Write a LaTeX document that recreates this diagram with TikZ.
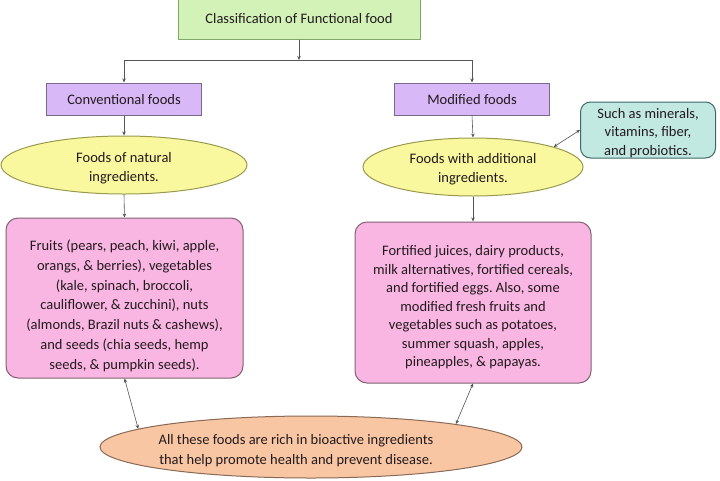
\documentclass[tikz,border=0pt]{standalone}
\usepackage{fontspec}
\setmainfont{Carlito}
\usetikzlibrary{shapes.geometric,arrows.meta}
\definecolor{gfill}{HTML}{D2F2B8}
\definecolor{gline}{HTML}{7FA868}
\definecolor{pfill}{HTML}{D8B8F6}
\definecolor{pline}{HTML}{7A6A8A}
\definecolor{yfill}{HTML}{FAF89E}
\definecolor{yline}{HTML}{9A9A4E}
\definecolor{kfill}{HTML}{F9B6E2}
\definecolor{kline}{HTML}{806272}
\definecolor{tfill}{HTML}{C2E8E2}
\definecolor{tline}{HTML}{3E6A66}
\definecolor{ofill}{HTML}{F8C6A2}
\definecolor{oline}{HTML}{8A6A56}
\definecolor{txt}{HTML}{221A1E}
\definecolor{conn}{HTML}{555555}
\frenchspacing
\newcommand{\lowr}[2]{\raisebox{-#1pt}[\height][\depth]{#2}}
\newcommand{\blockl}[3]{\raisebox{-#1pt}[\height][\depth]{\fontsize{14.5}{#2}\selectfont\begin{tabular}{@{}c@{}}#3\end{tabular}}}
\tikzset{
  every node/.style={text=txt, font=\fontsize{14.5}{19}\selectfont\frenchspacing, align=center, inner sep=0pt, line width=1pt},
  titlebox/.style={draw=gline, fill=gfill, rectangle, minimum width=242pt, minimum height=44pt},
  catbox/.style={draw=pline, fill=pfill, rectangle, minimum width=155pt, minimum height=32pt},
  yell/.style={draw=yline, fill=yfill, ellipse, minimum width=#1, minimum height=58pt},
  pinkbox/.style={draw=kline, fill=kfill, rectangle, rounded corners=12pt, minimum width=237pt, minimum height=160pt},
  tealbox/.style={draw=tline, fill=tfill, rectangle, rounded corners=10pt, minimum width=135pt, minimum height=56pt},
  peach/.style={draw=oline, fill=ofill, ellipse, minimum width=422pt, minimum height=62pt},
  arr/.style={draw=conn, line width=0.6pt, -{Stealth[length=4pt,width=3.5pt]}},
  darr/.style={draw=conn, line width=0.6pt, {Stealth[length=4pt,width=3.5pt]}-{Stealth[length=4pt,width=3.5pt]}}
}
\begin{document}
\begin{tikzpicture}[x=1pt,y=-1pt]
\useasboundingbox (0,0) rectangle (720,480);
\clip (0,0) rectangle (720,480);
\fill[white] (0,0) rectangle (720,480);
\node[titlebox] (title) at (299,17) {\lowr{2}{Classification of Functional food}};
\node[catbox] (conv) at (124,99) {\lowr{1}{Conventional foods}};
\node[catbox] (mod) at (472,99) {\lowr{1}{Modified foods}};
\node[yell=246pt] (le) at (124,165) {\lowr{3}{Foods of natural}\\\lowr{3}{ingredients.}};
\node[yell=220pt] (re) at (473,167) {\lowr{2}{Foods with additional}\\\lowr{2}{ingredients.}};
\node[tealbox] (teal) at (648,130) {\blockl{3}{18.5}{Such as minerals,\\vitamins, fiber,\\and probiotics.}};
\node[pinkbox] (lp) at (124.5,298) {\blockl{8}{19.7}{Fruits (pears, peach, kiwi, apple,\\orangs, \& berries), vegetables\\(kale, spinach, broccoli,\\cauliflower, \& zucchini), nuts\\(almonds, Brazil nuts \& cashews),\\and seeds (chia seeds, hemp\\seeds, \& pumpkin seeds).}};
\node[pinkbox, minimum width=236pt, minimum height=161pt] (rp) at (473,302.5) {\blockl{5}{18.5}{Fortified juices, dairy products,\\milk alternatives, fortified cereals,\\and fortified eggs. Also, some\\modified fresh fruits and\\vegetables such as potatoes,\\summer squash, apples,\\pineapples, \& papayas.}};
\node[peach] (be) at (311,447) {\hspace*{-30pt}\lowr{3}{All these foods are rich in bioactive ingredients}\\\hspace*{-30pt}\lowr{4}{that help promote health and prevent disease.}};
\coordinate (j) at (299,60);
\draw[arr] (title.south) -- (j);
\draw[arr] (j) -| (conv.north);
\draw[arr] (j) -| (mod.north);
\draw[arr] (conv.south) -- (le.north);
\draw[arr] (mod.south) -- (re.north);
\draw[arr] (le.south) -- (lp.north);
\draw[arr] (re.south) -- (rp.north);
\draw[darr] (re.14) -- (teal.west);
\draw[darr] (lp.south) -- (be.174);
\draw[darr] (rp.south) -- (be.9);
\end{tikzpicture}
\end{document}
